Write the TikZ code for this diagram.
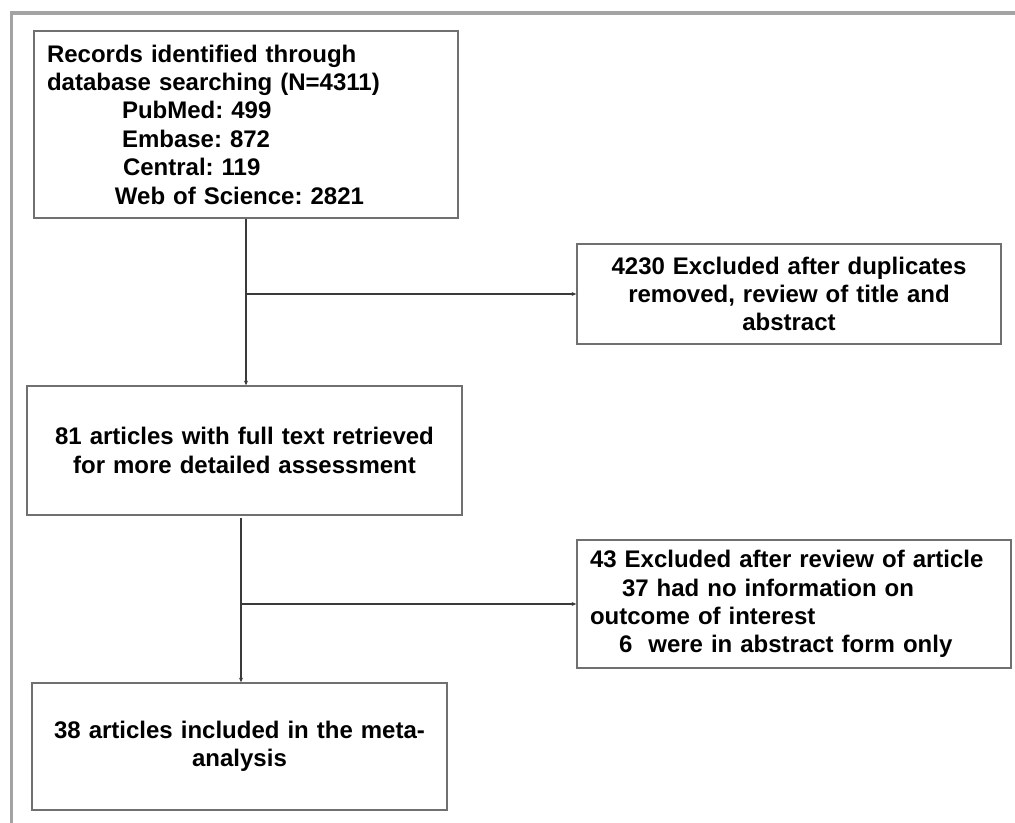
\documentclass[tikz,border=0pt]{standalone}
\usepackage{fontspec}
\setmainfont{Liberation Sans}
\frenchspacing
\usetikzlibrary{arrows.meta}
\definecolor{framegray}{HTML}{A3A3A3}
\definecolor{boxgray}{HTML}{707070}
\definecolor{linegray}{HTML}{3A3A3A}
\tikzset{
  flowbox/.style={draw=boxgray, line width=1.1pt, rectangle, inner xsep=9.75pt,
    font=\fontsize{18pt}{21.3pt}\selectfont\bfseries\frenchspacing, text=black},
  conn/.style={draw=linegray, line width=0.8pt},
  connarrow/.style={conn, -{Stealth[length=3.5pt,width=3pt]}},
  outerframe/.style={draw=framegray, line width=2.3pt}
}
\begin{document}
\begin{tikzpicture}[x=0.75pt,y=-0.75pt]
\useasboundingbox (0,0) rectangle (1015,823);
\draw[outerframe] (11.5,823) -- (11.5,13) -- (1015,13);

\node[flowbox, minimum width=318pt, minimum height=140.25pt, text width=298.5pt, align=left] (b1) at (246,124.5)
  {Records identified through\\
   database searching (N=4311)\\
   \hspace*{56.25pt}PubMed: 499\\
   \hspace*{56.25pt}Embase: 872\\
   \hspace*{57pt}Central: 119\\
   \hspace*{51pt}Web of Science: 2821};

\node[flowbox, minimum width=318pt, minimum height=75pt, text width=298.5pt, align=center] (b3) at (789,294)
  {4230 Excluded after duplicates\\ removed, review of title and\\ abstract};

\node[flowbox, minimum width=326.25pt, minimum height=96.75pt, text width=306pt, align=center] (b2) at (244.5,450.5)
  {81 articles with full text retrieved\\ for more detailed assessment};

\node[flowbox, minimum width=325.5pt, minimum height=96pt, text width=306pt, align=left] (b4) at (794,604)
  {43 Excluded after review of article\\
   \hspace*{24pt}37 had no information on\\
   outcome of interest\\
   \hspace*{21.75pt}6~ were in abstract form only};

\node[flowbox, minimum width=311.25pt, minimum height=95.25pt, text width=291.75pt, align=center] (b5) at (239.5,746.5)
  {38 articles included in the meta-\\ analysis};

\coordinate (j1) at (b1.south |- b3.west);
\coordinate (j2) at (241,604);
\coordinate (t2) at (241,518);

\draw[connarrow] (b1.south) -- (b1.south |- b2.north);
\draw[connarrow] (j1) -- (b3.west);
\draw[connarrow] (t2) -- (t2 |- b5.north);
\draw[connarrow] (j2) -- (b4.west);
\end{tikzpicture}
\end{document}
